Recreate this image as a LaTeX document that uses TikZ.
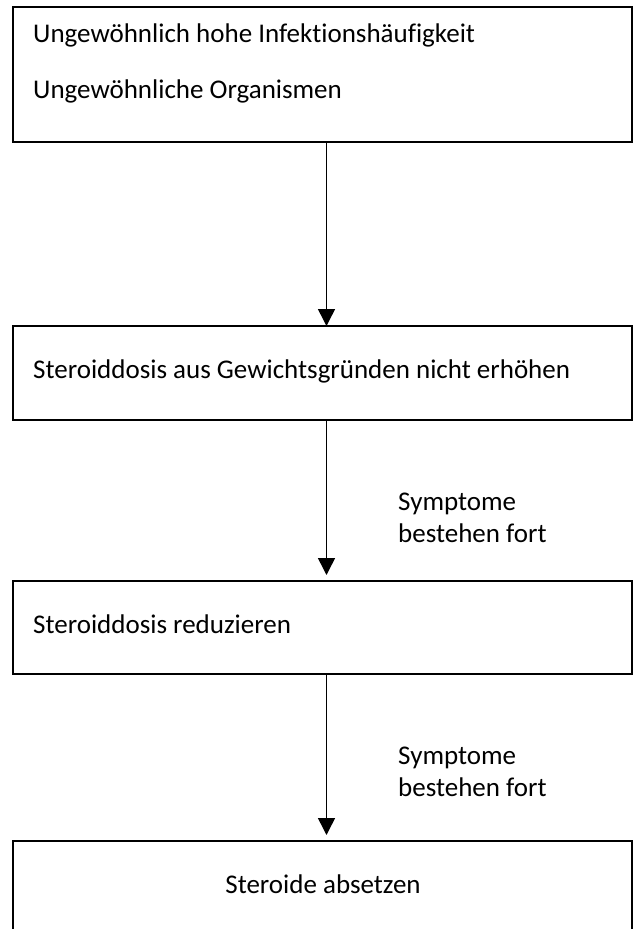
\documentclass[tikz,border=0pt]{standalone}
\usepackage{fontspec}
\setmainfont[Ligatures={NoCommon}]{Carlito}
\usetikzlibrary{arrows.meta}
\begin{document}
\begin{tikzpicture}[x=1pt,y=-1pt,
  box/.style={draw, line width=1.8pt, minimum width=619pt, anchor=north west, inner sep=0pt, outer sep=0pt},
  txt/.style={anchor=base west, inner sep=0pt, font=\fontsize{27}{32}\selectfont},
  lbl/.style={anchor=base west, inner sep=0pt, align=left, font=\fontsize{27}{32}\selectfont},
  arr/.style={line width=1.5pt, -{Triangle[length=17pt,width=17pt]}}]
\useasboundingbox (0,0) rectangle (639,929);
\clip (0,0) rectangle (639,929);
% boxes
\node[box, minimum height=135pt] (b1) at (13,7) {};
\node[box, minimum height=94pt] (b2) at (13,326) {};
\node[box, minimum height=93pt] (b3) at (13,581) {};
\node[box, minimum height=140pt] (b4) at (13,841) {};
% texts
\node[txt] (t1) at (33,42) {Ungewöhnlich hohe Infektionshäufigkeit};
\node[txt] (t2) at (33,98) {Ungewöhnliche Organismen};
\node[txt] (t3) at (33,378) {Steroiddosis aus Gewichtsgründen nicht erhöhen};
\node[txt] (t4) at (33,633) {Steroiddosis reduzieren};
\node[txt, anchor=base] (t5) at (323,893) {Steroide absetzen};
% arrows
\coordinate (ax) at (326.5,0);
\draw[arr] (b1.south -| ax) -- (b2.north -| ax);
\draw[arr, shorten >=6pt] (b2.south -| ax) -- (b3.north -| ax);
\draw[arr, shorten >=6pt] (b3.south -| ax) -- (b4.north -| ax);
% labels
\node[lbl] (l1) at (398,542) {Symptome\\bestehen fort};
\node[lbl] (l2) at (398,796) {Symptome\\bestehen fort};
\end{tikzpicture}
\end{document}
